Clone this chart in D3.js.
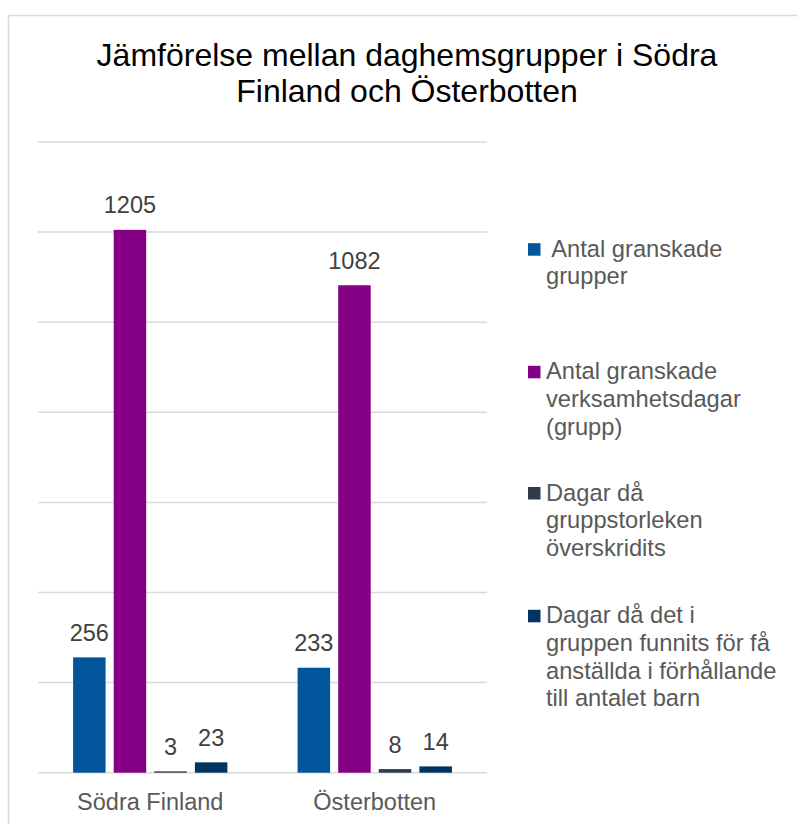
<!DOCTYPE html>
<html><head><meta charset="utf-8">
<script src="https://cdn.jsdelivr.net/npm/d3@7"></script>
<style>html,body{margin:0;padding:0;background:#fff;}svg{display:block;font-family:"Liberation Sans",Arial,sans-serif;}</style>
</head><body>
<script>
const titleLines = ["Jämförelse mellan daghemsgrupper i Södra", "Finland och Österbotten"];
const categories = ["Södra Finland", "Österbotten"];
const seriesNames = ["Antal granskade grupper", "Antal granskade verksamhetsdagar (grupp)", "Dagar då gruppstorleken överskridits", "Dagar då det i gruppen funnits för få anställda i förhållande till antalet barn"];
const legendLines = [[" Antal granskade", "grupper"], ["Antal granskade", "verksamhetsdagar", "(grupp)"], ["Dagar då", "gruppstorleken", "överskridits"], ["Dagar då det i", "gruppen funnits för få", "anställda i förhållande", "till antalet barn"]];
const values = [[256, 1205, 3, 23], [233, 1082, 8, 14]];
const yTicks = [0, 200, 400, 600, 800, 1000, 1200, 1400];
const colors = ["#00559b", "#850085", "#2d3b4c", "#003463"];

const W = 797, H = 824;
const svg = d3.select("body").append("svg").attr("width", W).attr("height", H);
svg.append("rect").attr("x", 8.5).attr("y", 15.5).attr("width", 797).attr("height", 830)
  .attr("fill", "#fff").attr("stroke", "#d9d9d9").attr("stroke-width", 1.5);

svg.append("text").attr("text-anchor", "middle").attr("font-size", 32).attr("fill", "#000")
  .selectAll("tspan").data(titleLines).join("tspan")
  .attr("x", 407).attr("y", (d, i) => 66 + i * 36).text(d => d);

const plot = {left: 38, right: 487, top: 142, bottom: 772.7};
const y = d3.scaleLinear().domain([0, 1400]).range([plot.bottom, plot.top]);
const x0 = d3.scaleBand().domain(categories).range([plot.left, plot.right]).padding(0);
const x1 = d3.scaleBand().domain(d3.range(seriesNames.length))
  .range([35.1, 189.4]).paddingInner(0.2).paddingOuter(0);

svg.append("g").selectAll("line").data(yTicks).join("line")
  .attr("x1", plot.left).attr("x2", plot.right)
  .attr("y1", d => y(d)).attr("y2", d => y(d))
  .attr("stroke", "#d9d9d9").attr("stroke-width", 1.5);

const groups = svg.append("g").selectAll("g").data(categories).join("g")
  .attr("transform", d => `translate(${x0(d)},0)`);
groups.selectAll("rect").data((d, ci) => values[ci].map((v, si) => ({v, si})))
  .join("rect")
  .attr("x", d => x1(d.si)).attr("width", x1.bandwidth())
  .attr("y", d => y(d.v)).attr("height", d => y(0) - y(d.v))
  .attr("fill", d => colors[d.si]);
groups.selectAll("text.val").data((d, ci) => values[ci].map((v, si) => ({v, si})))
  .join("text").attr("class", "val")
  .attr("x", d => x1(d.si) + x1.bandwidth() / 2).attr("y", d => y(d.v) - 16.5)
  .attr("text-anchor", "middle").attr("font-size", 23.5).attr("fill", "#404040")
  .text(d => d.v);

svg.append("g").selectAll("text").data(categories).join("text")
  .attr("x", d => x0(d) + x0.bandwidth() / 2).attr("y", 810)
  .attr("text-anchor", "middle").attr("font-size", 23.5).attr("fill", "#595959")
  .text(d => d);

const legendStart = [256.7, 379.3, 500.5, 623.3];
const lg = svg.append("g").selectAll("g").data(seriesNames).join("g");
lg.append("rect").attr("x", 528).attr("y", (d, i) => legendStart[i] - 13.5)
  .attr("width", 12.5).attr("height", 12.5).attr("fill", (d, i) => colors[i]);
lg.append("text").attr("font-size", 23.7).attr("fill", "#595959")
  .each(function(d, i) {
    d3.select(this).selectAll("tspan").data(legendLines[i]).join("tspan")
      .attr("x", 546).attr("y", (t, j) => legendStart[i] + j * 27.6)
      .attr("xml:space", "preserve").style("white-space", "pre").text(t => t);
  });
</script>
</body></html>
